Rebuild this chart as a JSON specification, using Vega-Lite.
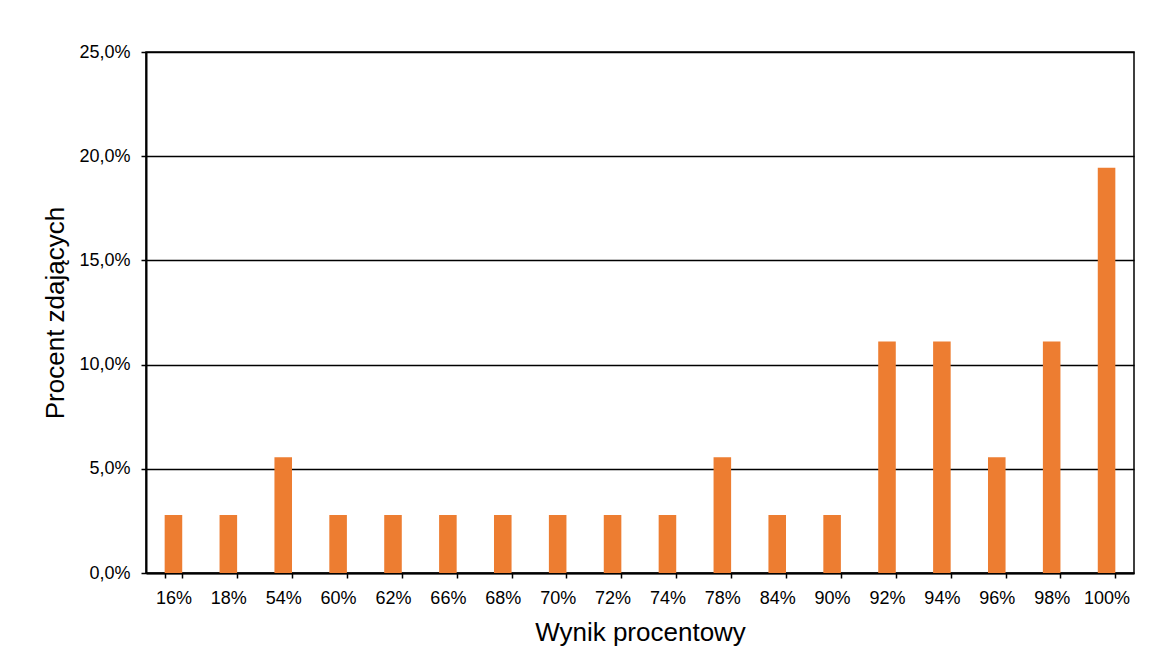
{
  "$schema": "https://vega.github.io/schema/vega-lite/v6.json",
  "autosize": "none",
  "width": 988,
  "height": 521,
  "padding": {"left": 146, "top": 52, "right": 33, "bottom": 93},
  "background": "white",
  "config": {
    "locale": {"number": {"decimal": ",", "thousands": " ", "grouping": [3], "currency": ["", " zł"]}},
    "font": "Liberation Sans",
    "view": {"stroke": "black", "strokeWidth": 1.5},
    "axis": {
      "labelFont": "Liberation Sans",
      "titleFont": "Liberation Sans",
      "labelColor": "black",
      "titleColor": "black",
      "domainColor": "black",
      "tickColor": "black",
      "labelFontSize": 18,
      "titleFontSize": 26,
      "titleFontWeight": "normal"
    }
  },
  "data": {
    "values": [
      {"wynik": "16%", "procent": 0.02778},
      {"wynik": "18%", "procent": 0.02778},
      {"wynik": "54%", "procent": 0.05556},
      {"wynik": "60%", "procent": 0.02778},
      {"wynik": "62%", "procent": 0.02778},
      {"wynik": "66%", "procent": 0.02778},
      {"wynik": "68%", "procent": 0.02778},
      {"wynik": "70%", "procent": 0.02778},
      {"wynik": "72%", "procent": 0.02778},
      {"wynik": "74%", "procent": 0.02778},
      {"wynik": "78%", "procent": 0.05556},
      {"wynik": "84%", "procent": 0.02778},
      {"wynik": "90%", "procent": 0.02778},
      {"wynik": "92%", "procent": 0.11111},
      {"wynik": "94%", "procent": 0.11111},
      {"wynik": "96%", "procent": 0.05556},
      {"wynik": "98%", "procent": 0.11111},
      {"wynik": "100%", "procent": 0.19444}
    ]
  },
  "mark": {"type": "bar", "color": "#ED7D31"},
  "encoding": {
    "x": {
      "field": "wynik",
      "type": "nominal",
      "sort": null,
      "title": "Wynik procentowy",
      "scale": {"paddingInner": 0.68, "paddingOuter": 0.34},
      "axis": {
        "labelAngle": 0,
        "tickBand": "extent",
        "tickSize": 5,
        "tickWidth": 1.5,
        "domainWidth": 2,
        "labelPadding": 11,
        "titlePadding": 12,
        "grid": false
      }
    },
    "y": {
      "field": "procent",
      "type": "quantitative",
      "title": "Procent zdających",
      "scale": {"domain": [0, 0.25], "nice": false},
      "axis": {
        "values": [0, 0.05, 0.1, 0.15, 0.2, 0.25],
        "format": ".1%",
        "tickSize": 5,
        "tickWidth": 1.5,
        "domainWidth": 2,
        "labelPadding": 11,
        "titlePadding": 10,
        "grid": true,
        "gridColor": "black",
        "gridWidth": 1.5,
        "gridOpacity": 1
      }
    }
  }
}
